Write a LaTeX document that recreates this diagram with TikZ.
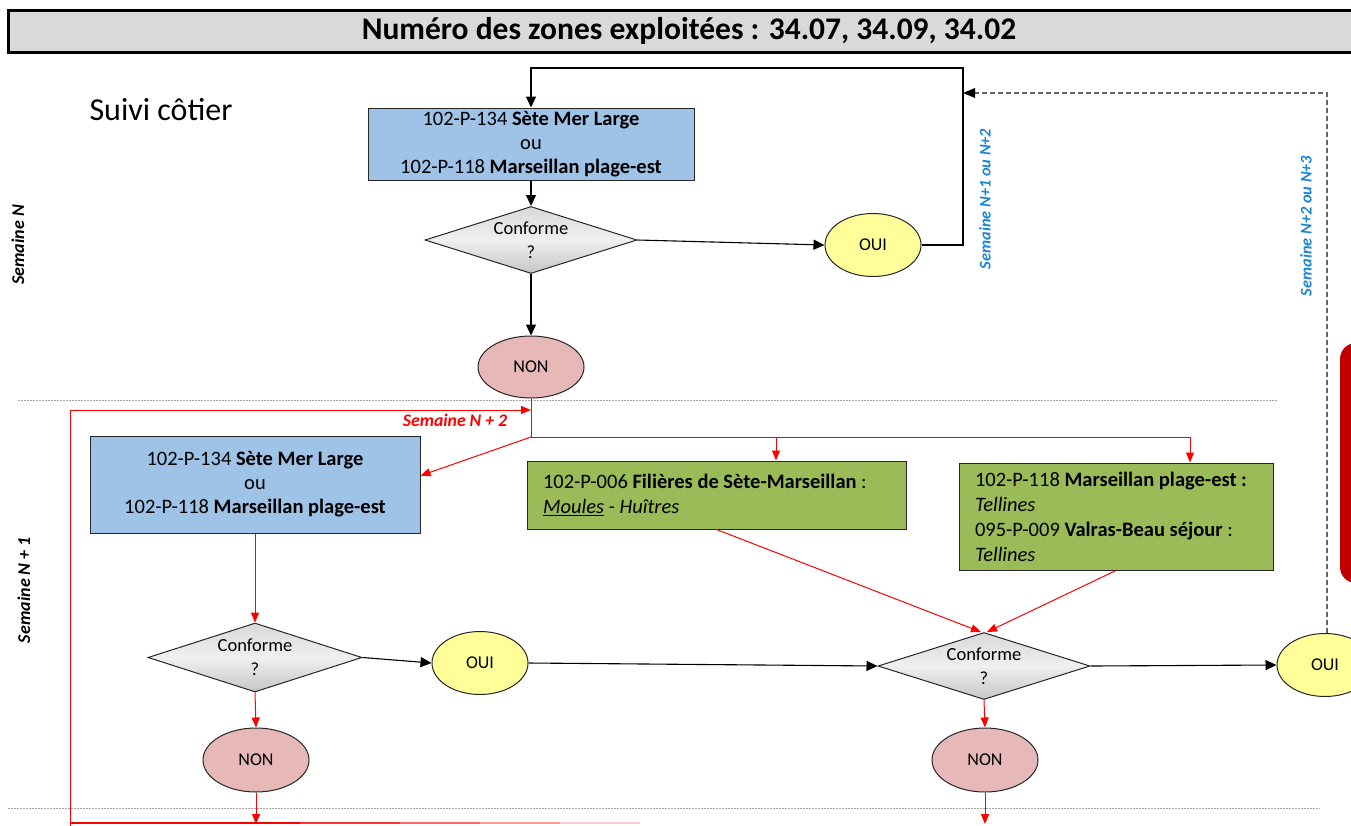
\documentclass[tikz,border=0pt]{standalone}
\usepackage{fontspec}
\setmainfont{Carlito}
\usetikzlibrary{shapes.geometric,arrows.meta,calc}
\definecolor{boxblue}{HTML}{9FC2E7}
\definecolor{boxgreen}{HTML}{9BBB59}
\definecolor{ouiyellow}{HTML}{FFFF99}
\definecolor{nonpink}{HTML}{E6B8B7}
\definecolor{labelblue}{HTML}{1C86D1}
\definecolor{darkred}{HTML}{C00000}
\definecolor{titlegrey}{HTML}{D9D9D9}
\tikzset{
  bluebox/.style={draw=black!85, line width=1pt, fill=boxblue, align=center, inner sep=0pt,
    font=\fontsize{20.5}{24}\selectfont},
  greenbox/.style={draw=black!85, line width=1pt, fill=boxgreen, align=flush left, inner sep=0pt,
    font=\fontsize{20.5}{25}\selectfont},
  decision/.style={diamond, draw=black!85, line width=1pt, aspect=3, inner sep=0pt,
    minimum width=212pt, minimum height=67pt, align=center,
    top color=gray!30, bottom color=gray!45, middle color=gray!12,
    font=\fontsize{18.5}{24}\selectfont},
  ouinode/.style={ellipse, draw=black!85, line width=1pt, fill=ouiyellow, inner sep=0pt,
    minimum width=96pt, minimum height=63pt, font=\fontsize{18}{20}\selectfont},
  nonnode/.style={ellipse, draw=black!85, line width=1pt, fill=nonpink, inner sep=0pt,
    minimum width=106pt, minimum height=62pt, font=\fontsize{18}{20}\selectfont},
  blk/.style={draw=black, line width=1.1pt, -{Triangle[length=11pt,width=10pt]}},
  rarr/.style={draw=red, line width=1pt, -{Triangle[length=10pt,width=8pt]}},
  rline/.style={draw=red, line width=1pt},
  gdash/.style={draw=gray!80!black, line width=1.3pt, dash pattern=on 5pt off 3pt},
  sepline/.style={draw=gray!70, line width=1pt, dash pattern=on 2pt off 1pt},
  vlabel/.style={rotate=90, font=\fontsize{16.3}{18}\selectfont\bfseries\itshape, text=labelblue},
  sidelabel/.style={rotate=90, font=\fontsize{18}{20}\selectfont\bfseries\itshape, text=black},
}
\begin{document}
\begin{tikzpicture}[x=1pt,y=-1pt]
\clip (0,0) rectangle (1351,825);
\fill[white] (0,0) rectangle (1351,825);

% title bar
\draw[line width=3pt, fill=titlegrey] (8,10) rectangle (1365,52);
\node[font=\fontsize{31.5}{34}\selectfont\bfseries] (title) at (689,31) {Numéro des zones exploitées : 34.07, 34.09, 34.02};

\node[font=\fontsize{32}{34}\selectfont, anchor=west] (suivi) at (86,110) {Suivi côtier};

% side labels
\node[sidelabel] (semN) at (18,245) {Semaine N};
\node[sidelabel] (semN1) at (24,590) {Semaine N + 1};
\node[vlabel] (lab1) at (985,199) {Semaine N+1 ou N+2};
\node[vlabel] (lab2) at (1306,226) {Semaine N+2 ou N+3};

% separators
\draw[sepline] (18,400) -- (1278,400);
\draw[sepline] (8,808) -- (1320,808);

% red side rectangle
\fill[darkred, rounded corners=16pt] (1340,343) rectangle (1390,583);

% Week N
\node[bluebox, minimum width=326pt, minimum height=72pt] (b1) at (531,144)
  {102-P-134 \textbf{Sète Mer Large}\\ou\\102-P-118 \textbf{Marseillan plage-est}};
\node[decision] (d1) at (531,240) {Conforme\\?};
\node[ouinode] (o1) at (873,245) {OUI};
\node[nonnode] (n1) at (531,367) {NON};

\draw[blk] (b1.south) -- (d1.north);
\draw[blk] (d1.south) -- (n1.north);
\draw[blk] (d1.east) -- (o1.west);
\coordinate (loopTop) at (963,68);
\draw[blk] (o1.east) -| (loopTop) -| (b1.north);

% Week N+1
\node[bluebox, minimum width=330pt, minimum height=97pt] (b2) at (255,484.5)
  {102-P-134 \textbf{Sète Mer Large}\\ou\\102-P-118 \textbf{Marseillan plage-est}};
\node[greenbox, minimum width=379pt, minimum height=68pt, text width=347pt] (g1) at (716.5,495)
  {102-P-006 \textbf{Filières de Sète-Marseillan} :\\\underline{\textit{Moules}} \textit{- Huîtres}};
\node[greenbox, minimum width=314pt, minimum height=107pt, text width=282pt] (g2) at (1116,516.5)
  {102-P-118 \textbf{Marseillan plage-est :}\\\textit{Tellines}\\095-P-009 \textbf{Valras-Beau séjour} :\\\textit{Tellines}};
\node[decision, minimum width=214pt, minimum height=69pt] (d2) at (255,657.5) {Conforme\\?};
\node[decision] (d3) at (984,666) {Conforme\\?};
\node[ouinode] (o2) at (480,663) {OUI};
\node[ouinode] (o3) at (1325,665) {OUI};
\node[nonnode, minimum height=64pt] (n2) at (256,760) {NON};
\node[nonnode, minimum height=64pt] (n3) at (985,760) {NON};

% red branching from NON (week N)
\coordinate (rj) at (531,437);
\coordinate (rM) at (776,437);
\coordinate (rR) at (1190,437);
\draw[rline] (n1.south) -- (rj) -- (rR);
\draw[rarr] (rR) -- (rR |- g2.north);
\draw[rarr] (rM) -- (rM |- g1.north);
\draw[rarr] (rj) -- ($(b2.north east)!0.41!(b2.south east)$);

% red loop (Semaine N + 2)
\coordinate (lpA) at (70,826);
\coordinate (lpB) at (70,410);
\draw[rarr] (lpA) -- (lpB) -- (n1.south |- lpB);
\node[font=\fontsize{17.7}{19}\selectfont\bfseries\itshape, text=red] (semN2) at (455,420) {Semaine N + 2};
\foreach \a/\b/\o in {70/300/1, 300/400/0.8, 400/480/0.6, 480/560/0.4, 560/640/0.2}
  \draw[red, line width=1.3pt, opacity=\o] (\a,823) -- (\b,823);

% red in week N+1
\draw[rarr] (b2.south) -- (d2.north);
\draw[rarr] (d2.south) -- (n2.north);
\coordinate (n2end) at (256,824);
\draw[rarr] (n2.south) -- (n2end);
\draw[rarr] (g1.south) -- ([xshift=-3pt]d3.north);
\draw[rarr] (g2.south) -- ([xshift=3pt]d3.north);
\draw[rarr] (d3.south) -- (n3.north);
\coordinate (n3end) at (985,824);
\draw[rarr] (n3.south) -- (n3end);

% black in week N+1
\draw[blk] (d2.east) -- (o2.west);
\draw[blk] (o2.east) -- (d3.west);
\draw[blk] (d3.east) -- (o3.west);

% dashed return
\coordinate (dshC) at (1327,93);
\coordinate (dshE) at (963,93);
\draw[gdash] (o3.north -| dshC) -- (dshC) -- (dshE);
\fill[black] (dshE) -- ++(12,-5) -- ++(0,10) -- cycle;
\end{tikzpicture}
\end{document}
